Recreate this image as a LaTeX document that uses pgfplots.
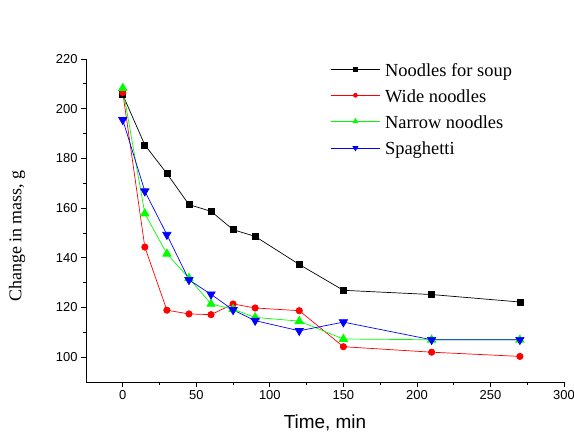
\documentclass[border=0pt]{standalone}
\usepackage{pgfplots}
\pgfplotsset{compat=1.18}
\usepackage{fontspec}
\setmainfont{Liberation Serif}
\newfontfamily\arial{Liberation Sans}
\begin{document}
\begin{tikzpicture}
\path[use as bounding box] (0,0) rectangle (574bp,436bp);
\begin{axis}[
  at={(86bp,54bp)}, anchor=south west,
  scale only axis, width=478bp, height=323bp,
  xmin=-25, xmax=300, ymin=90, ymax=220,
  axis lines*=left,
  axis line style={-, line width=0.8pt},
  tick align=outside,
  xtick={0,50,...,300}, ytick={100,120,...,220},
  minor x tick num=1, minor y tick num=1,
  major tick length=5bp, minor tick length=3bp,
  tick style={line width=0.8pt, black},
  ticklabel style={font=\arial\fontsize{13}{15}\selectfont},
  /pgf/number format/assume math mode=true,
  xlabel={\arial Time, min},
  xlabel style={font=\fontsize{19}{22}\selectfont, at={(axis description cs:0.5,-0.127)}, anchor=center},
  ylabel={Change in mass, g},
  ylabel style={font=\fontsize{18}{21}\selectfont, at={(axis description cs:-0.144,0.452)}, anchor=center},
  clip=false,
]
% data
\addplot[black, line width=0.7pt, mark=square*, mark size=3pt] coordinates {
  (0,205.6)(15,185.4)(30,173.9)(45,161.4)(60,158.7)(75,151.3)(90,148.6)
  (120,137.3)(150,126.9)(210,125.2)(270,122.2)
};
\addplot[red, line width=0.7pt, mark=*, mark size=3.2pt] coordinates {
  (0,206.5)(15,144.3)(30,118.9)(45,117.4)(60,117.1)(75,121.4)(90,119.8)
  (120,118.7)(150,104.2)(210,102.0)(270,100.3)
};
\addplot[green, line width=0.7pt, mark=triangle*, mark size=4.8pt] coordinates {
  (0,208.3)(15,157.8)(30,141.6)(45,131.8)(60,121.4)(75,119.3)(90,116.0)
  (120,114.5)(150,107.3)(210,107.0)(270,107.0)
};
\addplot[blue, line width=0.7pt, mark=triangle*, mark options={rotate=180}, mark size=4.8pt] coordinates {
  (0,195.5)(15,166.8)(30,149.3)(45,131.1)(60,125.3)(75,119.0)(90,114.7)
  (120,110.6)(150,114.1)(210,107.0)(270,107.0)
};
% legend samples
\addplot[black, line width=0.7pt, mark=square*, mark size=2pt, mark indices={2}] coordinates {(141.5,215.9)(158.2,215.9)(174.8,215.9)};
\addplot[red, line width=0.7pt, mark=*, mark size=2pt, mark indices={2}] coordinates {(141.5,205.4)(158.2,205.4)(174.8,205.4)};
\addplot[green, line width=0.7pt, mark=triangle*, mark size=2.8pt, mark indices={2}] coordinates {(141.5,194.9)(158.2,194.9)(174.8,194.9)};
\addplot[blue, line width=0.7pt, mark=triangle*, mark options={rotate=180}, mark size=2.8pt, mark indices={2}] coordinates {(141.5,184.2)(158.2,184.2)(174.8,184.2)};
\begin{scope}[font=\fontsize{18.5}{21}\selectfont]
\node[anchor=base west, inner sep=0pt] at (axis cs:178.2,213.05) {Noodles for soup};
\node[anchor=base west, inner sep=0pt] at (axis cs:178.2,202.5) {Wide noodles};
\node[anchor=base west, inner sep=0pt] at (axis cs:178.2,192.0) {Narrow noodles};
\node[anchor=base west, inner sep=0pt] at (axis cs:178.2,181.4) {Spaghetti};
\end{scope}
\end{axis}
\end{tikzpicture}
\end{document}
